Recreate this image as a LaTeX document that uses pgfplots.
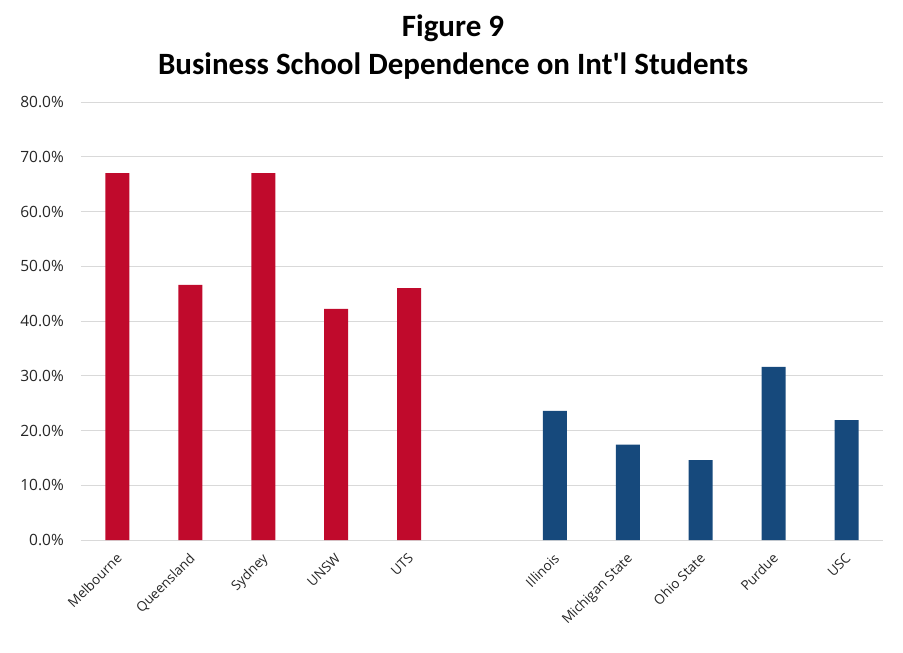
\documentclass[border=0pt]{standalone}
\usepackage{pgfplots}
\pgfplotsset{compat=1.18}
\usepackage{fontspec}
\setmainfont{Carlito}
\setsansfont{Open Sans}
\definecolor{ausred}{RGB}{192,10,44}
\definecolor{usblue}{RGB}{22,73,124}
\definecolor{gridgray}{RGB}{217,217,217}
\definecolor{labgray}{RGB}{38,38,38}

\begin{document}
\begin{tikzpicture}
  \begin{axis}[
    scale only axis,
    width=802bp, height=438bp,
    xmin=-0.5, xmax=10.5,
    ymin=0, ymax=80,
    axis line style={draw=none},
    axis x line*=bottom,
    x axis line style={draw=gridgray, line width=0.8bp},
    ytick={0,10,...,80},
    ymajorgrids,
    grid style={gridgray, line width=0.8bp},
    major tick length=0pt,
    xtick={0,1,2,3,4,6,7,8,9,10},
    xticklabels={Melbourne,Queensland,Sydney,UNSW,UTS,Illinois,Michigan State,Ohio State,Purdue,USC},
    xticklabel style={font=\sffamily\fontsize{13.5bp}{15bp}\selectfont, text=labgray, xshift=-2bp, yshift=-12bp, rotate=45, anchor=north east, inner sep=0pt},
    yticklabel style={font=\sffamily\fontsize{15.5bp}{17bp}\selectfont, text=labgray, inner sep=0pt, xshift=-17bp},
    yticklabel={\pgfmathprintnumber[fixed, fixed zerofill, precision=1]{\tick}\%},
    /pgf/number format/assume math mode=true,
    clip=false,
  ]
    % Australian business schools
    \addplot[ybar, bar width=24bp, bar shift=0pt, fill=ausred, draw=none] coordinates {
      (0,67.0) (1,46.6) (2,67.0) (3,42.2) (4,46.0)
    };
    % US business schools
    \addplot[ybar, bar width=24bp, bar shift=0pt, fill=usblue, draw=none] coordinates {
      (6,23.6) (7,17.4) (8,14.6) (9,31.6) (10,21.9)
    };
    \coordinate (O) at (rel axis cs:0,0);
  \end{axis}
  \node[anchor=base, font=\bfseries\fontsize{31bp}{34bp}\selectfont] at ([shift={(372bp,503bp)}]O) {Figure 9};
  \node[anchor=base, font=\bfseries\fontsize{31bp}{34bp}\selectfont] at ([shift={(372bp,465bp)}]O) {Business School Dependence on Int\textquotesingle l Students};
  \path ([shift={(-81bp,-113bp)}]O) rectangle ++(903bp,653bp);
\end{tikzpicture}
\end{document}
